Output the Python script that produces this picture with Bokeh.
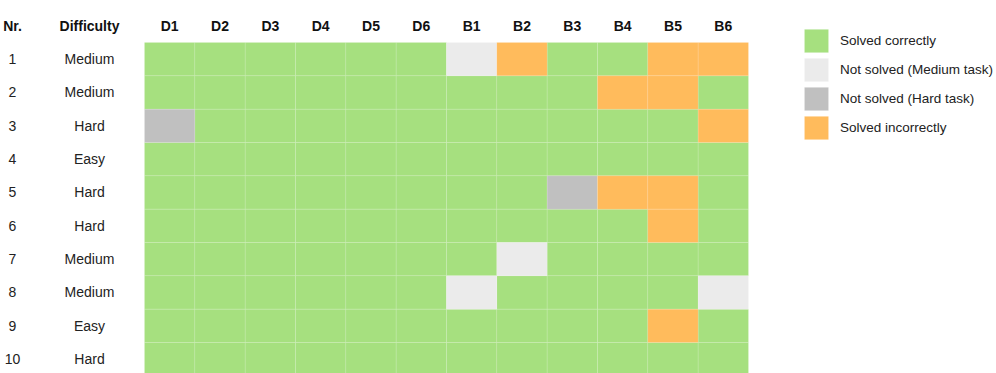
from bokeh.plotting import figure
from bokeh.models import Range1d, Legend, LegendItem, ColumnDataSource
from bokeh.core.properties import value
from bokeh.embed import file_html
from bokeh.resources import INLINE

# ---- data ----
columns = ["D1", "D2", "D3", "D4", "D5", "D6", "B1", "B2", "B3", "B4", "B5", "B6"]
numbers = ["1", "2", "3", "4", "5", "6", "7", "8", "9", "10"]
difficulty = ["Medium", "Medium", "Hard", "Easy", "Hard", "Hard", "Medium", "Medium", "Easy", "Hard"]
# C = solved correctly, M = not solved (medium), H = not solved (hard), I = solved incorrectly
results = [
    ["C", "C", "C", "C", "C", "C", "M", "I", "C", "C", "I", "I"],
    ["C", "C", "C", "C", "C", "C", "C", "C", "C", "I", "I", "C"],
    ["H", "C", "C", "C", "C", "C", "C", "C", "C", "C", "C", "I"],
    ["C", "C", "C", "C", "C", "C", "C", "C", "C", "C", "C", "C"],
    ["C", "C", "C", "C", "C", "C", "C", "C", "H", "I", "I", "C"],
    ["C", "C", "C", "C", "C", "C", "C", "C", "C", "C", "I", "C"],
    ["C", "C", "C", "C", "C", "C", "C", "M", "C", "C", "C", "C"],
    ["C", "C", "C", "C", "C", "C", "M", "C", "C", "C", "C", "M"],
    ["C", "C", "C", "C", "C", "C", "C", "C", "C", "C", "I", "C"],
    ["C", "C", "C", "C", "C", "C", "C", "C", "C", "C", "C", "C"],
]
status_codes = ["C", "M", "H", "I"]
status_labels = ["Solved correctly", "Not solved (Medium task)", "Not solved (Hard task)", "Solved incorrectly"]
status_colors = ["#a6e07f", "#ebebeb", "#c0c0c0", "#ffbb5c"]

# ---- layout ----
W, H = 996, 373
cw, rh = 50.33, 33.33
grid_left, grid_top = 144, 42
x_range = Range1d(-grid_left / cw, (W - grid_left) / cw)
y_range = Range1d((H - grid_top) / rh, -grid_top / rh)

FONT = "Liberation Sans"

p = figure(width=W, height=H, x_range=x_range, y_range=y_range,
           x_axis_type=None, y_axis_type=None, toolbar_location=None,
           output_backend="svg", min_border=0, outline_line_color=None)
p.xgrid.visible = False
p.ygrid.visible = False

items = []
for code, label, color in zip(status_codes, status_labels, status_colors):
    xs, ys = [], []
    for r, row in enumerate(results):
        for c, v in enumerate(row):
            if v == code:
                xs.append(c + 0.5)
                ys.append(r + 0.5)
    src = ColumnDataSource(dict(x=xs, y=ys))
    rend = p.rect(x="x", y="y", width=1, height=1, source=src,
                  fill_color=color, line_color="white", line_alpha=0.1, line_width=1)
    items.append(LegendItem(label=label, renderers=[rend]))

legend = Legend(items=items, location=(801, 231), orientation="vertical",
                glyph_width=30, glyph_height=29, spacing=0, padding=0, margin=0,
                label_standoff=9, label_text_font=FONT, label_text_font_size="13.5px",
                label_text_color="#222222", border_line_alpha=0, background_fill_alpha=0,
                label_height=20)
p.add_layout(legend)

# headers
nr_x = (12 - grid_left) / cw
diff_x = (89 - grid_left) / cw
header_y = -0.5
p.text(x=[c + 0.5 for c in range(len(columns))], y=[header_y] * len(columns), text=columns,
       text_align="center", text_baseline="middle", text_font=value(FONT),
       text_font_size="14px", text_font_style="bold", text_color="#111111")
p.text(x=[nr_x, diff_x], y=[header_y, header_y], text=["Nr.", "Difficulty"],
       text_align="center", text_baseline="middle", text_font=value(FONT),
       text_font_size="14px", text_font_style="bold", text_color="#111111")

# row labels
p.text(x=[nr_x] * len(numbers), y=[r + 0.5 for r in range(len(numbers))], text=numbers,
       text_align="center", text_baseline="middle", text_font=value(FONT),
       text_font_size="14px", text_color="#222222")
p.text(x=[diff_x] * len(difficulty), y=[r + 0.5 for r in range(len(difficulty))], text=difficulty,
       text_align="center", text_baseline="middle", text_font=value(FONT),
       text_font_size="14px", text_color="#222222")

open("out.html", "w").write(file_html(p, INLINE))
